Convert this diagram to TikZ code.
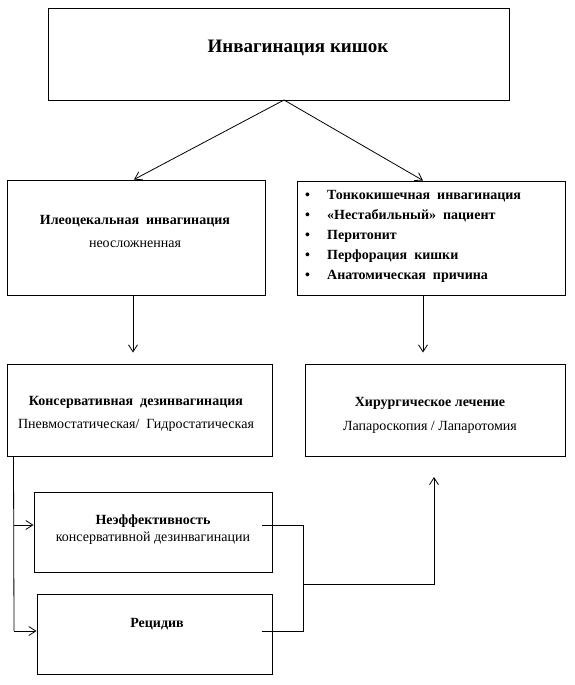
\documentclass[tikz,border=0pt]{standalone}
\usepackage{fontspec}
\setmainfont{Liberation Serif}
\usetikzlibrary{positioning,arrows.meta}
\tikzset{
    box/.style={
        draw,line width=1pt,inner sep=0pt
    },
    boxtext/.style={
        align=center,inner sep=0pt,font=\fontsize{14}{23}\selectfont
    },
    link/.style={
        line width=.8pt
    }
}

\begin{document}
\begin{tikzpicture}[x=1pt,y=-1pt, >={Straight Barb[length=7pt,width=9pt]}]
\useasboundingbox (0,0) rectangle (574,685);
\node[box,minimum width=461pt,minimum height=91pt] (top) at (278.5,54.5) {};
\node[box,minimum width=258pt,minimum height=115pt] (ileo) at (136,237.5) {};
\node[box,minimum width=268pt,minimum height=114pt] (signs) at (431,238) {};
\node[box,minimum width=265pt,minimum height=92pt] (kons) at (139.5,410) {};
\node[box,minimum width=260pt,minimum height=92pt] (surg) at (435,410) {};
\node[box,minimum width=238pt,minimum height=80pt] (fail) at (153,532) {};
\node[box,minimum width=235pt,minimum height=80pt] (relapse) at (154.5,634) {};
% texts
\node[boxtext,font=\fontsize{19}{23}\selectfont\bfseries] (toptext) at (298,48) {Инвагинация кишок};
\node[boxtext] (ileotext) at (135,231.5) {\textbf{Илеоцекальная\ \ инвагинация}\\неосложненная};
\node[boxtext,align=left,anchor=west,font=\fontsize{14}{20}\selectfont\bfseries] (signstext) at (305,236) {%
    \makebox[22pt][l]{•}Тонкокишечная\ \ инвагинация\\
    \makebox[22pt][l]{•}«Нестабильный»\ \ пациент\\
    \makebox[22pt][l]{•}Перитонит\\
    \makebox[22pt][l]{•}Перфорация\ \ кишки\\
    \makebox[22pt][l]{•}Анатомическая\ \ причина};
\node[boxtext] (konstext) at (136,413.5) {\textbf{Консервативная\ \ дезинвагинация}\\Пневмостатическая/\ \ Гидростатическая};
\node[boxtext,font=\fontsize{14}{24}\selectfont] (surgtext) at (430,415) {\textbf{Хирургическое лечение}\\Лапароскопия / Лапаротомия};
\node[boxtext,font=\fontsize{14}{17}\selectfont] (failtext) at (153,529.5) {\textbf{Неэффективность}\\консервативной дезинвагинации};
\node[boxtext,font=\fontsize{14}{17}\selectfont\bfseries] (relapsetext) at (157,624) {Рецидив};
% connectors
\coordinate (split) at (284,100);
\coordinate (trunk) at (14,631);
\coordinate (join) at (303,584);
\coordinate (surgin) at (434,477);
\draw[link,->] (split) -- ([xshift=-2pt]ileo.north);
\draw[link,->] (split) -- ([xshift=-8pt]signs.north);
\draw[link,->] ([xshift=-3pt]ileo.south) -- ++(0,57);
\draw[link,->] ([xshift=-8pt]signs.south) -- ++(0,57);
\draw[link] ([xshift=7pt]kons.south west) -- (trunk);
\draw[link,->] ([yshift=7pt]fail.west -| trunk) -- ([yshift=7pt]fail.west);
\draw[link,->] (trunk) -- ([yshift=3pt]relapse.west);
\draw[link] ([xshift=-11pt,yshift=7pt]fail.east) -| (join);
\draw[link] ([xshift=-11pt,yshift=3pt]relapse.east) -| (join);
\draw[link,->] (join) -| (surgin);
\end{tikzpicture}
\end{document}
